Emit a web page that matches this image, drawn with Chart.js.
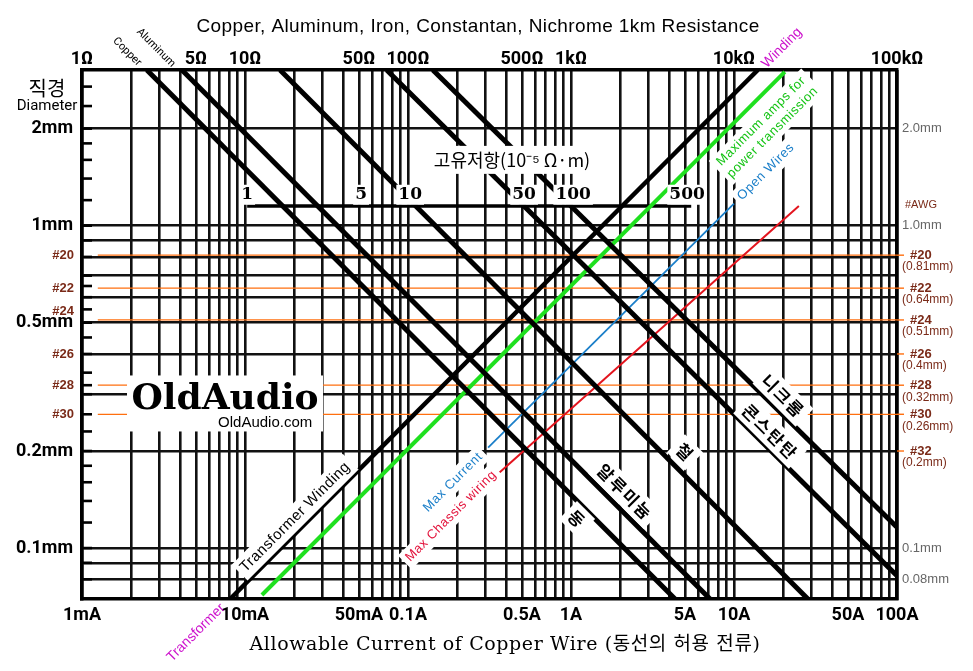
<!DOCTYPE html>
<html>
<head>
<meta charset="utf-8">
<script src="https://cdn.jsdelivr.net/npm/chart.js@4.4.1/dist/chart.umd.min.js"></script>
<style>
  html, body { margin: 0; background: #fff; }
  #wrap { width: 973px; height: 671px; }
</style>
</head>
<body>
<div id="wrap"><canvas id="wireChart" width="973" height="671"></canvas></div>
<script>
// Eje X: corriente en mA (el eje de arriba lee el mismo número como Ω por km)
const currentTicks = [1, 10, 50, 100, 500, 1000, 5000, 10000, 50000, 100000];
const currentLabels = ['1mA', '10mA', '50mA', '0.1A', '0.5A', '1A', '5A', '10A', '50A', '100A'];
const resistTicks = [1, 5, 10, 50, 100, 500, 1000, 10000, 100000];
const resistLabels = ['1Ω', '5Ω', '10Ω', '50Ω', '100Ω', '500Ω', '1kΩ', '10kΩ', '100kΩ'];
const gridMantissa = [1, 2, 3, 4, 5, 6, 7, 8, 9];
const gridDecades = [1, 10, 100, 1000, 10000];

// Eje Y: diámetro en mm
const diamMin = 0.0695;
const diamMax = 3.04;
const diamTicks = [2, 1, 0.5, 0.2, 0.1];
const diamLabels = ['2mm', '1mm', '0.5mm', '0.2mm', '0.1mm'];
const diamGrid = [2, 1, 0.9, 0.8, 0.7, 0.6, 0.5, 0.4, 0.3, 0.2, 0.1, 0.09, 0.08];
const diamMinor = [2.7, 2.35, 1.8, 1.6, 1.4, 1.2, 0.65, 0.55, 0.45, 0.35, 0.32, 0.26, 0.23, 0.18, 0.16, 0.14, 0.12];
const rightMmLabels = ['2.0mm', '1.0mm', '0.1mm', '0.08mm'];
const rightMmValues = [2, 1, 0.1, 0.08];

// Calibres AWG
const awgNames = ['#20', '#22', '#24', '#26', '#28', '#30', '#32'];
const awgDiam = [0.81, 0.64, 0.51, 0.4, 0.32, 0.26, 0.2];
const awgSub = ['(0.81mm)', '(0.64mm)', '(0.51mm)', '(0.4mm)', '(0.32mm)', '(0.26mm)', '(0.2mm)'];
const awgWithLine = ['#20', '#22', '#24', '#28', '#30'];

// Resistencia de 1 km (Ω) contra diámetro (mm), extremos
const copperLine = [{ x: 2.5, y: 3.04 }, { x: 4350, y: 0.0695 }];
const aluminumLine = [{ x: 4.1, y: 3.04 }, { x: 7130, y: 0.0695 }];
const ironLine = [{ x: 16.4, y: 3.04 }, { x: 28400, y: 0.0695 }];
const constantanLine = [{ x: 74, y: 3.04 }, { x: 100000, y: 0.082 }];
const nichromeLine = [{ x: 142, y: 3.04 }, { x: 100000, y: 0.116 }];

// Corriente admisible (mA) contra diámetro (mm)
const transformerLine = [{ x: 8.1, y: 0.0695 }, { x: 14000, y: 3.04 }];
const powerLine = [{ x: 12.7, y: 0.0715 }, { x: 20500, y: 3.0 }];
const openWireLine = [{ x: 310, y: 0.205 }, { x: 10000, y: 1.17 }];
const chassisLine = [{ x: 357, y: 0.17 }, { x: 25000, y: 1.15 }];

// Escala de resistividad (10^-5 Ω·m)
const rhoTicks = [1, 5, 10, 50, 100, 500];
const rhoLine = [{ x: 1, y: 1.15 }, { x: 530, y: 1.15 }];

const xGrid = [];
gridDecades.forEach(d => gridMantissa.forEach(m => xGrid.push(m * d)));
xGrid.push(100000);

const narrow = "Roboto, 'Liberation Sans', sans-serif";
const sans = "'Liberation Sans', Arial, sans-serif";
const kr = "'Noto Sans CJK KR', sans-serif";
const brown = '#7a2a18';
const orange = '#ff6f0f';

// Rótulos sobre el dibujo: texto, x (mA), y (mm), ángulo, fuente, color, fondo blanco, espaciado
const notes = [
  ['동', 1089, 0.123, 45, "bold 17px " + kr, '#000', true, 2],
  ['알루미늄', 2143, 0.149, 45, "bold 17px " + kr, '#000', true, 2],
  ['철', 5003, 0.198, 45, "bold 17px " + kr, '#000', true, 2],
  ['콘스탄탄', 16630, 0.229, 45, "bold 17px " + kr, '#000', true, 2],
  ['니크롬', 19990, 0.296, 45, "bold 17px " + kr, '#000', true, 2],
  ['Transformer Winding', 20.3, 0.1247, -45, "15px " + sans, '#000', true, 0.5],
  ['Max Current', 188.8, 0.16, -45, "13px " + sans, '#1b7fc9', true, 0.6],
  ['Max Chassis wiring', 183.6, 0.1256, -45, "13px " + sans, '#e3143c', true, 0.6],
  ['Open Wires', 15710, 1.47, -45, "13px " + sans, '#1b7fc9', true, 0.6],
  ['Winding', 19690, 3.56, -45, "14px " + sans, '#cc11cc', false, 0],
  ['Transformer', 5.0, 0.0546, -45, "14px " + sans, '#cc11cc', false, 0],
  ['Copper', 1.89, 3.46, 45, "11px " + narrow, '#000', false, 0],
  ['Aluminum', 2.84, 3.56, 45, "11px " + narrow, '#000', false, 0]
];

function drawNote(ctx, text, px, py, deg, font, color, box, spacing) {
  ctx.save();
  ctx.translate(px, py);
  ctx.rotate(deg * Math.PI / 180);
  ctx.font = font;
  ctx.letterSpacing = spacing + 'px';
  const w = ctx.measureText(text).width;
  const h = parseFloat(font.match(/(\d+)px/)[1]);
  if (box) {
    ctx.fillStyle = '#fff';
    ctx.fillRect(-w / 2 - 4, -h * 0.75, w + 8, h * 1.5);
  }
  ctx.fillStyle = color;
  ctx.textAlign = 'center';
  ctx.textBaseline = 'middle';
  ctx.fillText(text, 0, 0);
  ctx.restore();
}

const nomoPlugin = {
  id: 'nomoLabels',
  afterDatasetsDraw(chart) {
    const { ctx, chartArea: a, scales } = chart;
    const px = v => scales.x.getPixelForValue(v);
    const py = v => scales.y.getPixelForValue(v);
    const pr = v => scales.xr.getPixelForValue(v);

    // marcas cortas hacia dentro del eje izquierdo
    ctx.save();
    ctx.strokeStyle = '#000';
    ctx.lineWidth = 2.6;
    diamGrid.concat(diamMinor).forEach(v => {
      ctx.beginPath();
      ctx.moveTo(a.left, py(v));
      ctx.lineTo(a.left + 10, py(v));
      ctx.stroke();
    });
    // guiones naranjas a la derecha
    ctx.strokeStyle = orange;
    ctx.lineWidth = 1.4;
    awgDiam.forEach(d => {
      ctx.beginPath();
      ctx.moveTo(a.right, py(d));
      ctx.lineTo(a.right + 7, py(d));
      ctx.stroke();
    });
    ctx.restore();

    // logotipo
    ctx.save();
    ctx.fillStyle = '#fff';
    const lx = px(7.54), ly = py(0.289);
    ctx.fillRect(lx - 98, ly - 24, 196, 56);
    ctx.fillStyle = '#000';
    ctx.textAlign = 'center';
    ctx.textBaseline = 'middle';
    ctx.font = "bold 36px 'DejaVu Serif', serif";
    ctx.fillText('OldAudio', lx, ly);
    ctx.font = "15px " + sans;
    ctx.fillText('OldAudio.com', px(13.3), py(0.2437));
    ctx.restore();

    // escala de resistividad
    ctx.save();
    const rx = px(434.6), ry = py(1.6);
    const rt = '고유저항(10⁻⁵ Ω·m)';
    ctx.font = "18px " + kr;
    const rw = ctx.measureText(rt).width;
    ctx.fillStyle = '#fff';
    ctx.fillRect(rx - rw / 2 - 6, ry - 14, rw + 12, 28);
    ctx.fillStyle = '#000';
    ctx.textAlign = 'center';
    ctx.textBaseline = 'middle';
    ctx.fillText(rt, rx, ry);
    ctx.font = "bold 17px 'DejaVu Serif', serif";
    rhoTicks.forEach(r => {
      const t = String(r);
      const w = ctx.measureText(t).width;
      const x0 = pr(r), y0 = py(1.247);
      ctx.fillStyle = '#fff';
      ctx.fillRect(x0 - w / 2 - 2, y0 - 10, w + 4, 20);
      ctx.fillStyle = '#000';
      ctx.fillText(t, x0, y0);
    });
    ctx.restore();

    notes.forEach(n => drawNote(ctx, n[0], px(n[1]), py(n[2]), n[3], n[4], n[5], n[6], n[7]));

    // rótulo verde de dos líneas
    ctx.save();
    ctx.translate(px(15930), py(2.025));
    ctx.rotate(-Math.PI / 4);
    ctx.font = "13px " + sans;
    ctx.letterSpacing = '0.6px';
    const g1 = 'Maximum amps for', g2 = 'power transmission';
    const gw = Math.max(ctx.measureText(g1).width, ctx.measureText(g2).width);
    ctx.fillStyle = '#fff';
    ctx.fillRect(-gw / 2 - 4, -17, gw + 8, 34);
    ctx.fillStyle = '#16c416';
    ctx.textAlign = 'center';
    ctx.textBaseline = 'middle';
    ctx.fillText(g1, 0, -8);
    ctx.fillText(g2, 0, 8);
    ctx.restore();

    // rótulos de la izquierda
    ctx.save();
    ctx.textAlign = 'center';
    ctx.textBaseline = 'middle';
    ctx.fillStyle = '#000';
    ctx.font = "20px " + kr;
    ctx.fillText('직경', 47, 88);
    ctx.font = "15px " + narrow;
    ctx.fillText('Diameter', 47, 106);
    ctx.textAlign = 'right';
    ctx.fillStyle = brown;
    ctx.font = "bold 13px " + sans;
    awgNames.slice(0, 6).forEach((name, i) => {
      const shift = name === '#24' ? -9 : 0;
      ctx.fillText(name, a.left - 8, py(awgDiam[i]) + shift);
    });
    ctx.restore();

    // rótulos de la derecha
    ctx.save();
    ctx.textAlign = 'left';
    ctx.textBaseline = 'middle';
    ctx.fillStyle = '#666';
    ctx.font = "13px " + sans;
    rightMmLabels.forEach((t, i) => ctx.fillText(t, a.right + 5, py(rightMmValues[i])));
    ctx.fillStyle = brown;
    ctx.font = "11px " + sans;
    ctx.fillText('#AWG', a.right + 8, py(1) - 21);
    awgNames.forEach((name, i) => {
      const y0 = py(awgDiam[i]);
      ctx.font = "bold 13px " + sans;
      ctx.fillText(name, a.right + 13, y0);
      ctx.font = "12px " + sans;
      ctx.fillText(awgSub[i], a.right + 5, y0 + 12);
    });
    ctx.restore();

    // títulos
    ctx.save();
    ctx.fillStyle = '#000';
    ctx.textAlign = 'center';
    ctx.textBaseline = 'middle';
    ctx.font = "19px " + sans;
    ctx.letterSpacing = '0.4px';
    ctx.fillText('Copper, Aluminum, Iron, Constantan, Nichrome 1km Resistance', 478, 27);
    ctx.font = "19px 'DejaVu Serif', 'Noto Sans CJK KR', serif";
    ctx.letterSpacing = '0.6px';
    ctx.fillText('Allowable Current of Copper Wire (동선의 허용 전류)', 505, 645);
    ctx.restore();
  }
};

const thick = (data, width, color) => ({
  data, showLine: true, borderColor: color, borderWidth: width,
  pointRadius: 0, fill: false
});

const datasets = [
  thick(copperLine, 5, '#000'),
  thick(aluminumLine, 5, '#000'),
  thick(ironLine, 5, '#000'),
  thick(constantanLine, 5, '#000'),
  thick(nichromeLine, 5, '#000'),
  thick(transformerLine, 4.5, '#000'),
  thick(powerLine, 4, '#1fe01f'),
  thick(openWireLine, 1.8, '#1b7fc9'),
  thick(chassisLine, 2, '#e3141e'),
  Object.assign(thick(rhoLine, 3.5, '#000'), { xAxisID: 'xr' })
];
awgNames.forEach((name, i) => {
  if (awgWithLine.includes(name)) {
    datasets.push(thick([{ x: 1.25, y: awgDiam[i] }, { x: 100000, y: awgDiam[i] }], 1.3, orange));
  }
});

const tickFont = { family: narrow, size: 18, weight: 'bold', lineHeight: 1.2 };
const frame = { display: true, color: '#000', width: 3.5 };

new Chart(document.getElementById('wireChart').getContext('2d'), {
  type: 'scatter',
  data: { datasets },
  options: {
    responsive: false,
    animation: false,
    layout: { padding: 0 },
    plugins: { legend: { display: false }, tooltip: { enabled: false } },
    scales: {
      x: {
        type: 'logarithmic', position: 'bottom', min: 1, max: 100000,
        afterBuildTicks: s => { s.ticks = xGrid.map(v => ({ value: v })); },
        afterFit: s => { s.height = 72; },
        grid: { color: '#111', lineWidth: 2.6, drawTicks: false },
        border: frame,
        ticks: {
          autoSkip: false, maxRotation: 0, padding: 6, color: '#000', font: tickFont,
          callback: v => { const i = currentTicks.indexOf(v); return i < 0 ? '' : currentLabels[i]; }
        }
      },
      x2: {
        type: 'logarithmic', position: 'top', min: 1, max: 100000,
        afterBuildTicks: s => { s.ticks = resistTicks.map(v => ({ value: v })); },
        afterFit: s => { s.height = 70; },
        grid: { display: false, drawTicks: false },
        border: frame,
        ticks: { autoSkip: false, maxRotation: 0, padding: 0, color: '#000', font: tickFont,
          callback: (v, i) => resistLabels[i] }
      },
      xr: { type: 'logarithmic', display: false, min: 0.097, max: 9700 },
      y: {
        type: 'logarithmic', position: 'left', min: diamMin, max: diamMax,
        afterBuildTicks: s => { s.ticks = diamGrid.concat(diamMinor).map(v => ({ value: v })); },
        afterFit: s => { s.width = 82; },
        grid: {
          color: c => (c.tick && diamGrid.includes(c.tick.value)) ? '#111' : 'rgba(0,0,0,0)',
          lineWidth: 2.6, drawTicks: false
        },
        border: frame,
        ticks: {
          autoSkip: false, padding: 9, color: '#000', font: tickFont,
          callback: v => { const i = diamTicks.indexOf(v); return i < 0 ? '' : diamLabels[i]; }
        }
      },
      y2: {
        type: 'logarithmic', position: 'right', min: diamMin, max: diamMax,
        afterFit: s => { s.width = 76; },
        grid: { display: false, drawTicks: false },
        border: frame,
        ticks: { display: false }
      }
    }
  },
  plugins: [nomoPlugin]
});
</script>
</body>
</html>
